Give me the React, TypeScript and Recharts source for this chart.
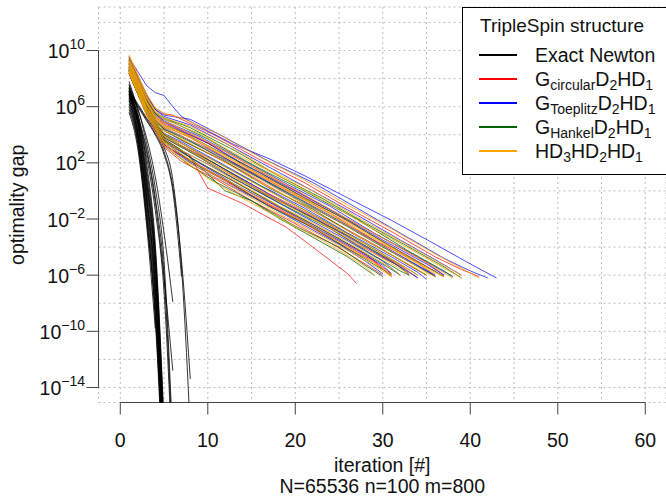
import React from "react";
import { LineChart, Line, XAxis, YAxis, CartesianGrid, ReferenceLine, Legend, Label } from "recharts";

// every run: [iteration, log10(optimality gap)]
type Run = number[][];

const exactNewton: Run[] = [
  [[1, 7.0], [2, 4.6], [3, 0.2], [4, -6.0], [5, -19]],
  [[1, 6.6], [2, 4.0], [3, -0.8], [4, -7.5], [5, -20]],
  [[1, 7.4], [2, 5.0], [3, 0.9], [4, -5.0], [5, -18]],
  [[1, 6.2], [2, 3.6], [3, -1.6], [4, -8.6], [5, -21]],
  [[1, 7.6], [2, 5.3], [3, 1.6], [4, -4.2], [5, -17]],
  [[1, 5.6], [2, 3.0], [3, -2.4], [4, -9.8]],
  [[1, 6.9], [2, 4.4], [3, -0.2], [4, -6.6], [5, -19.5]],
  [[1, 6.4], [2, 3.8], [3, -1.2], [4, -8.0], [5, -20.5]],
  [[1, 7.1], [2, 4.8], [3, 0.5], [4, -5.5], [5, -18.5]],
  [[1, 6.8], [2, 4.2], [3, -0.5], [4, -7.0], [5, -20]],
  [[1, 5.8], [2, 3.3], [3, -2.0], [4, -9.2], [5, -22]],
  [[1, 7.3], [2, 5.1], [3, 1.2], [4, -4.6], [5, -17.5]],
  [[1, 6.5], [2, 4.1], [3, -0.4], [4, -6.8], [5, -19.5]],
  [[1, 7.8], [2, 5.6], [3, 2.0], [4, -3.8], [5, -16.5]],
  [[1, 6.0], [2, 3.5], [3, -1.8], [4, -8.8], [5, -21]],
  [[1, 7.2], [2, 4.9], [3, 0.7], [4, -5.2], [5, -18]],
  [[1, 7.1], [2, 5.4], [3, 3.0], [4, -0.5], [5, -6.0], [6, -19]],
  [[1, 6.7], [2, 5.0], [3, 2.4], [4, -1.4], [5, -7.2], [6, -20]],
  [[1, 7.3], [2, 5.8], [3, 3.8], [4, 1.0], [5, -3.0], [6, -7.9]],
  [[1, 6.9], [2, 5.2], [3, 2.8], [4, -0.8], [5, -6.2], [6, -12.8]],
  [[1, 7.5], [2, 5.9], [3, 3.4], [4, 0.2], [5, -5.0], [6, -18]],
  [[1, 7.2], [2, 6.2], [3, 5.2], [4, 4.3], [5, 3.1], [6, 0.8], [7, -5.5], [8, -17]],
  [[1, 6.9], [2, 6.0], [3, 5.0], [4, 4.0], [5, 2.6], [6, 0.0], [7, -6.1]],
  [[1, 7.0], [2, 6.1], [3, 5.1], [4, 4.1], [5, 2.8], [6, 0.3], [7, -5.0], [8, -13.4]],
];

const gCircular: Run[] = [
  [[1, 8.4], [2, 6.9], [3, 5.5], [4, 4.4], [5, 3.7], [8, 2.5], [9, 1.3], [10, 0.2], [14, -0.9], [19, -2.6], [22, -4.0], [26, -5.9], [27, -6.6]],
  [[1, 8.9], [2, 7.3], [3, 5.9], [4, 4.8], [5, 3.8], [8, 2.8], [12, 1.4], [17, -0.4], [22, -1.9], [27, -3.8], [32, -5.4], [33, -6.0]],
  [[1, 8.5], [2, 7.0], [3, 5.6], [4, 4.5], [5, 3.4], [6, 2.9], [10, 1.5], [15, -0.3], [20, -1.9], [25, -3.6], [29, -5.0], [31, -6.1]],
  [[1, 9.3], [2, 7.9], [3, 6.5], [4, 5.5], [5, 4.9], [7, 4.4], [12, 2.8], [16, 1.4], [21, -0.3], [26, -2.0], [31, -3.7], [35, -5.1], [37, -6.0]],
  [[1, 8.6], [2, 7.2], [3, 5.7], [4, 4.6], [5, 3.6], [9, 2.0], [13, 0.7], [18, -1.1], [23, -2.7], [28, -4.5], [31, -5.9]],
  [[1, 9.1], [2, 7.7], [3, 6.3], [4, 5.2], [5, 4.6], [8, 3.8], [13, 2.0], [18, 0.4], [24, -1.6], [29, -3.5], [34, -5.1], [36, -6.1]],
  [[1, 8.3], [2, 6.9], [3, 5.4], [4, 4.3], [5, 3.1], [7, 2.1], [11, 0.8], [15, -0.7], [19, -2.0], [24, -3.7], [28, -5.2], [30, -6.0]],
  [[1, 9.6], [2, 8.2], [3, 6.8], [4, 5.9], [5, 5.5], [6, 5.4], [11, 3.9], [16, 2.2], [21, 0.6], [26, -1.2], [31, -2.9], [36, -4.7], [39, -5.6], [41, -6.1]],
  [[1, 8.8], [2, 7.4], [3, 6.0], [4, 5.0], [5, 4.3], [9, 3.0], [14, 1.4], [19, -0.4], [24, -2.1], [29, -3.8], [33, -5.3], [35, -6.0]],
  [[1, 8.7], [2, 7.3], [3, 5.9], [4, 4.9], [5, 4.0], [7, 3.4], [12, 1.5], [17, -0.2], [23, -2.1], [28, -3.9], [32, -5.3], [34, -6.2]],
  [[1, 9.2], [2, 7.8], [3, 6.4], [4, 5.3], [5, 4.8], [10, 3.4], [15, 1.5], [20, -0.1], [25, -1.8], [30, -3.6], [34, -5.0], [37, -6.1]],
  [[1, 8.4], [2, 7.0], [3, 5.5], [4, 4.5], [5, 3.3], [8, 2.1], [12, 0.7], [16, -0.7], [21, -2.3], [26, -4.1], [29, -5.1], [31, -6.0]],
];

const gToeplitz: Run[] = [
  [[1, 9.5], [2, 8.5], [3, 7.5], [4, 7.0], [5, 6.8], [6, 6.0], [7, 5.3], [9, 4.6], [13, 3.3], [17, 2.3], [21, 1.1], [26, -0.5], [31, -2.1], [36, -3.8], [40, -5.2], [43, -6.2]],
  [[1, 9.4], [2, 8.1], [3, 6.9], [4, 5.8], [5, 5.4], [8, 5.1], [12, 3.8], [17, 2.1], [22, 0.6], [27, -1.2], [32, -3.0], [37, -4.8], [40, -5.7], [42, -6.2]],
  [[1, 9.0], [2, 7.5], [3, 6.1], [4, 5.1], [5, 4.4], [7, 3.9], [11, 2.5], [16, 0.9], [21, -0.9], [26, -2.5], [31, -4.3], [35, -5.7], [36, -6.1]],
  [[1, 8.7], [2, 7.2], [3, 5.8], [4, 4.8], [5, 3.9], [8, 2.9], [13, 1.2], [18, -0.6], [23, -2.2], [28, -4.0], [32, -5.4], [34, -6.2]],
  [[1, 9.2], [2, 7.8], [3, 6.4], [4, 5.4], [5, 4.9], [6, 4.6], [10, 3.4], [15, 1.6], [20, 0.0], [25, -1.7], [30, -3.5], [35, -5.2], [37, -6.0]],
  [[1, 8.5], [2, 7.1], [3, 5.6], [4, 4.6], [5, 3.5], [9, 2.0], [13, 0.5], [17, -0.8], [22, -2.5], [27, -4.2], [30, -5.3], [31, -5.9]],
  [[1, 9.5], [2, 8.1], [3, 6.7], [4, 5.8], [5, 5.3], [8, 4.7], [12, 3.4], [17, 1.7], [22, 0.0], [27, -1.7], [32, -3.5], [36, -4.9], [39, -6.0]],
  [[1, 8.8], [2, 7.3], [3, 5.9], [4, 4.9], [5, 4.1], [7, 3.5], [12, 1.8], [16, 0.4], [21, -1.2], [26, -3.0], [31, -4.7], [34, -5.8], [35, -6.3]],
  [[1, 8.6], [2, 7.2], [3, 5.7], [4, 4.7], [5, 3.7], [6, 3.2], [10, 1.9], [15, 0.2], [20, -1.5], [25, -3.2], [30, -5.0], [32, -6.0]],
  [[1, 9.3], [2, 7.9], [3, 6.5], [4, 5.5], [5, 5.0], [9, 3.9], [14, 2.2], [19, 0.5], [24, -1.1], [29, -3.0], [34, -4.7], [38, -6.1]],
  [[1, 8.4], [2, 6.9], [3, 5.5], [4, 4.4], [5, 3.3], [8, 2.0], [11, 0.9], [15, -0.4], [20, -2.1], [25, -3.8], [28, -5.0], [30, -5.9]],
  [[1, 9.0], [2, 7.6], [3, 6.2], [4, 5.1], [5, 4.5], [10, 3.0], [15, 1.3], [20, -0.4], [25, -2.1], [30, -3.9], [34, -5.3], [36, -6.0]],
];

const gHankel: Run[] = [
  [[1, 8.5], [2, 7.0], [3, 5.6], [4, 4.6], [5, 3.7], [7, 2.9], [9, 1.8], [12, 0.0], [15, -0.7], [18, -1.9], [22, -3.3], [26, -4.7], [29, -6.0]],
  [[1, 8.6], [2, 7.1], [3, 5.7], [4, 4.7], [5, 3.5], [8, 2.1], [12, 0.8], [17, -1.1], [22, -2.6], [27, -4.5], [30, -5.6], [31, -6.0]],
  [[1, 9.1], [2, 7.7], [3, 6.3], [4, 5.3], [5, 4.7], [7, 4.2], [11, 2.9], [16, 1.3], [21, -0.5], [26, -2.1], [31, -4.0], [35, -5.4], [37, -6.1]],
  [[1, 8.8], [2, 7.3], [3, 5.9], [4, 4.9], [5, 4.1], [6, 3.7], [10, 2.4], [15, 0.7], [20, -1.0], [25, -2.7], [30, -4.5], [33, -5.6], [34, -6.0]],
  [[1, 9.4], [2, 8.0], [3, 6.6], [4, 5.6], [5, 5.2], [8, 4.5], [13, 2.9], [18, 1.1], [23, -0.5], [28, -2.3], [33, -4.0], [37, -5.4], [39, -6.2]],
  [[1, 8.7], [2, 7.2], [3, 5.8], [4, 4.8], [5, 3.8], [9, 2.4], [13, 0.9], [18, -0.8], [24, -2.7], [29, -4.6], [32, -5.7], [33, -6.0]],
  [[1, 8.9], [2, 7.5], [3, 6.1], [4, 5.0], [5, 4.3], [7, 3.6], [12, 2.1], [17, 0.2], [22, -1.3], [27, -3.2], [32, -4.9], [35, -6.0]],
  [[1, 8.4], [2, 6.9], [3, 5.5], [4, 4.5], [5, 3.2], [8, 1.8], [11, 0.6], [15, -0.7], [20, -2.5], [25, -4.0], [28, -5.3], [30, -6.1]],
  [[1, 9.3], [2, 7.9], [3, 6.5], [4, 5.5], [5, 5.1], [6, 4.9], [10, 3.7], [15, 1.9], [21, 0.0], [27, -2.0], [33, -4.3], [37, -5.7], [38, -6.1]],
  [[1, 8.7], [2, 7.3], [3, 5.9], [4, 4.9], [5, 4.0], [7, 3.2], [11, 1.9], [16, 0.0], [21, -1.6], [26, -3.2], [31, -5.0], [33, -5.9]],
  [[1, 9.0], [2, 7.5], [3, 6.1], [4, 5.1], [5, 4.4], [9, 3.2], [14, 1.6], [19, -0.1], [25, -2.2], [30, -4.0], [34, -5.4], [36, -6.1]],
  [[1, 8.6], [2, 7.1], [3, 5.7], [4, 4.7], [5, 3.6], [8, 2.4], [12, 1.0], [17, -0.7], [22, -2.4], [27, -4.1], [30, -5.2], [32, -6.0]],
];

const hd3hd2hd1: Run[] = [
  [[1, 9.7], [2, 8.3], [3, 6.9], [4, 5.9], [5, 5.5], [7, 5.2], [11, 4.1], [16, 2.4], [21, 0.8], [26, -1.0], [31, -2.7], [36, -4.5], [39, -5.5], [41, -6.2]],
  [[1, 9.2], [2, 7.8], [3, 6.3], [4, 5.3], [5, 4.7], [8, 3.9], [12, 2.5], [17, 0.8], [22, -0.9], [27, -2.6], [32, -4.4], [36, -5.8], [37, -6.1]],
  [[1, 8.8], [2, 7.4], [3, 5.9], [4, 4.9], [5, 4.1], [6, 3.7], [10, 2.4], [14, 1.0], [19, -0.7], [24, -2.4], [29, -4.1], [33, -5.6], [34, -6.0]],
  [[1, 8.4], [2, 6.9], [3, 5.4], [4, 4.4], [5, 3.2], [7, 2.3], [10, 0.9], [13, -0.2], [16, -1.2], [19, -2.2], [23, -3.5], [26, -4.6], [28, -5.4], [29, -6.0]],
  [[1, 9.4], [2, 8.0], [3, 6.6], [4, 5.6], [5, 5.1], [9, 4.1], [13, 2.7], [18, 1.1], [23, -0.6], [28, -2.4], [33, -4.1], [37, -5.5], [39, -6.2]],
  [[1, 8.9], [2, 7.5], [3, 6.0], [4, 5.0], [5, 4.3], [7, 3.7], [11, 2.4], [15, 0.9], [20, -0.7], [25, -2.5], [30, -4.2], [34, -5.6], [35, -6.0]],
  [[1, 8.7], [2, 7.3], [3, 5.8], [4, 4.8], [5, 3.9], [8, 2.9], [13, 1.0], [17, -0.3], [22, -2.0], [27, -3.7], [31, -5.2], [33, -5.9]],
  [[1, 9.3], [2, 7.9], [3, 6.4], [4, 5.4], [5, 4.9], [6, 4.7], [10, 3.5], [15, 1.8], [20, 0.1], [26, -2.0], [31, -3.7], [35, -5.1], [38, -6.2]],
  [[1, 9.0], [2, 7.6], [3, 6.2], [4, 5.1], [5, 4.5], [9, 3.3], [12, 2.2], [16, 0.8], [21, -0.9], [26, -2.5], [31, -4.3], [35, -5.8], [36, -6.1]],
  [[1, 8.5], [2, 7.0], [3, 5.5], [4, 4.5], [5, 3.4], [7, 2.3], [11, 0.9], [15, -0.5], [19, -1.9], [23, -3.2], [27, -4.6], [30, -5.7], [31, -6.1]],
  [[1, 9.6], [2, 8.2], [3, 6.7], [4, 5.7], [5, 5.2], [8, 4.6], [12, 3.4], [17, 1.5], [22, 0.0], [28, -2.2], [33, -3.9], [37, -5.3], [39, -6.0]],
  [[1, 8.6], [2, 7.2], [3, 5.7], [4, 4.7], [5, 3.7], [6, 3.2], [10, 1.9], [14, 0.4], [18, -1.0], [23, -2.6], [28, -4.4], [31, -5.5], [32, -6.0]],
  [[1, 9.1], [2, 7.7], [3, 6.3], [4, 5.2], [5, 4.6], [8, 3.8], [13, 2.1], [19, 0.0], [24, -1.7], [29, -3.4], [34, -5.2], [36, -5.9]],
  [[1, 8.5], [2, 7.1], [3, 5.6], [4, 4.6], [5, 3.5], [9, 1.8], [13, 0.5], [17, -0.9], [21, -2.2], [26, -4.0], [29, -5.1], [31, -6.0]],
];

const xTicks = [0, 5, 10, 15, 20, 25, 30, 35, 40, 45, 50, 55, 60];
const yTicks = [-14, -12, -10, -8, -6, -4, -2, 0, 2, 4, 6, 8, 10, 12];
const xDomain = [-2.49, 62.37];
const yDomain = [-15.07, 13.1];

const legendTitle = "TripleSpin structure";
// label pieces: [text, is subscript]
const legendLabels: [string, boolean][][] = [
  [["Exact Newton", false]],
  [["G", false], ["circular", true], ["D", false], ["2", true], ["HD", false], ["1", true]],
  [["G", false], ["Toeplitz", true], ["D", false], ["2", true], ["HD", false], ["1", true]],
  [["G", false], ["Hankel", true], ["D", false], ["2", true], ["HD", false], ["1", true]],
  [["HD", false], ["3", true], ["HD", false], ["2", true], ["HD", false], ["1", true]],
];
const legendColors = ["#000000", "#ff0000", "#0000ff", "#006400", "#ffa500"];

const groups = [
  { runs: exactNewton, color: "#000000", curve: "monotone", opacity: 0.8 },
  { runs: gCircular, color: "#ff0000", curve: "linear", opacity: 0.7 },
  { runs: gToeplitz, color: "#0000ff", curve: "linear", opacity: 0.7 },
  { runs: gHankel, color: "#006400", curve: "linear", opacity: 0.75 },
  { runs: hd3hd2hd1, color: "#ffa500", curve: "linear", opacity: 0.8 },
];

const FONT = "'Liberation Sans', Arial, Helvetica, sans-serif";

function XTick(props: any) {
  const { x, y, payload } = props;
  if (payload.value % 10 !== 0) return <g />;
  return (
    <g>
      <line x1={x} y1={y} x2={x} y2={y + 12} stroke="#444" />
      <text x={x} y={y + 44.5} textAnchor="middle" fontSize={19.5} fill="#111">
        {payload.value}
      </text>
    </g>
  );
}

function YTick(props: any) {
  const { x, y, payload } = props;
  const v = payload.value;
  if (((v % 4) + 4) % 4 !== 2) return <g />;
  const exp = v < 0 ? `\u2212${-v}` : `${v}`;
  return (
    <g>
      <line x1={x - 12} y1={y} x2={x} y2={y} stroke="#444" />
      <text x={x - 13.5} y={y + 7.5} textAnchor="end" fontSize={19.5} fill="#111">
        <tspan>10</tspan>
        <tspan dy={-9} fontSize={14}>{exp}</tspan>
      </text>
    </g>
  );
}

function LegendBox() {
  return (
    <svg width={216} height={169} style={{ display: "block", fontFamily: FONT }}>
      <rect x={0.5} y={0.5} width={214} height={167} fill="#fff" stroke="#000" />
      <text x={18} y={25} fontSize={19} fill="#111">{legendTitle}</text>
      {legendLabels.map((parts, i) => {
        const cy = 48 + i * 24;
        return (
          <g key={i}>
            <line x1={17} y1={cy} x2={55} y2={cy} stroke={legendColors[i]} strokeWidth={2} />
            <text x={73} y={cy + 7} fontSize={19.5} fill="#111">
              {parts.map(([t, sub], j) => {
                const prevSub = j > 0 && parts[j - 1][1];
                const dy = sub && !prevSub ? 4 : !sub && prevSub ? -4 : 0;
                return (
                  <tspan key={j} dy={dy} fontSize={sub ? 14 : 19.5}>
                    {t}
                  </tspan>
                );
              })}
            </text>
          </g>
        );
      })}
    </svg>
  );
}

export default function App() {
  return (
    <div
      style={{
        position: "absolute",
        left: 0,
        top: 0,
        width: 666,
        height: 497,
        background: "#fff",
        fontFamily: FONT,
      }}
    >
      <LineChart width={666} height={497} margin={{ top: 7, right: 0, bottom: 0, left: 0 }}>
        <CartesianGrid stroke="#bdbdbd" strokeDasharray="2 3" />
        <XAxis
          type="number"
          dataKey="x"
          domain={xDomain}
          ticks={xTicks}
          interval={0}
          allowDataOverflow
          axisLine={false}
          tickLine={false}
          tickSize={0}
          tickMargin={0}
          height={94.5}
          tick={<XTick />}
        >
          <Label
            content={(p: any) => {
              const vb = p.viewBox;
              const cx = vb.x + vb.width / 2;
              return (
                <g>
                  <text x={cx} y={vb.y + 69} textAnchor="middle" fontSize={19.5} fill="#111">
                    iteration [#]
                  </text>
                  <text x={cx} y={vb.y + 90.5} textAnchor="middle" fontSize={19.5} fill="#111">
                    N=65536 n=100 m=800
                  </text>
                </g>
              );
            }}
          />
        </XAxis>
        <YAxis
          type="number"
          dataKey="y"
          domain={yDomain}
          ticks={yTicks}
          interval={0}
          allowDataOverflow
          axisLine={false}
          tickLine={false}
          tickSize={0}
          tickMargin={0}
          width={98.5}
          tick={<YTick />}
        >
          <Label
            content={() => {
              const cy = 7 + 395.5 / 2;
              return (
                <text
                  x={24}
                  y={cy}
                  transform={`rotate(-90 24 ${cy})`}
                  textAnchor="middle"
                  fontSize={19.5}
                  fill="#111"
                >
                  optimality gap
                </text>
              );
            }}
          />
        </YAxis>
        <ReferenceLine
          segment={[{ x: 0, y: yDomain[0] }, { x: 60, y: yDomain[0] }]}
          stroke="#444"
          ifOverflow="visible"
        />
        <ReferenceLine
          segment={[{ x: xDomain[0], y: -14 }, { x: xDomain[0], y: 10 }]}
          stroke="#444"
          ifOverflow="visible"
        />
        {groups.map((g, gi) =>
          g.runs.map((run, ri) => (
            <Line
              key={`${gi}-${ri}`}
              data={run.map(([x, y]) => ({ x, y }))}
              dataKey="y"
              type={g.curve as any}
              stroke={g.color}
              strokeOpacity={g.opacity}
              strokeWidth={1}
              dot={false}
              activeDot={false}
              isAnimationActive={false}
            />
          ))
        )}
        <Legend
          layout="vertical"
          align="center"
          verticalAlign="middle"
          wrapperStyle={{ left: 462, top: 7, width: 216, height: 169 }}
          content={() => <LegendBox />}
        />
      </LineChart>
    </div>
  );
}
